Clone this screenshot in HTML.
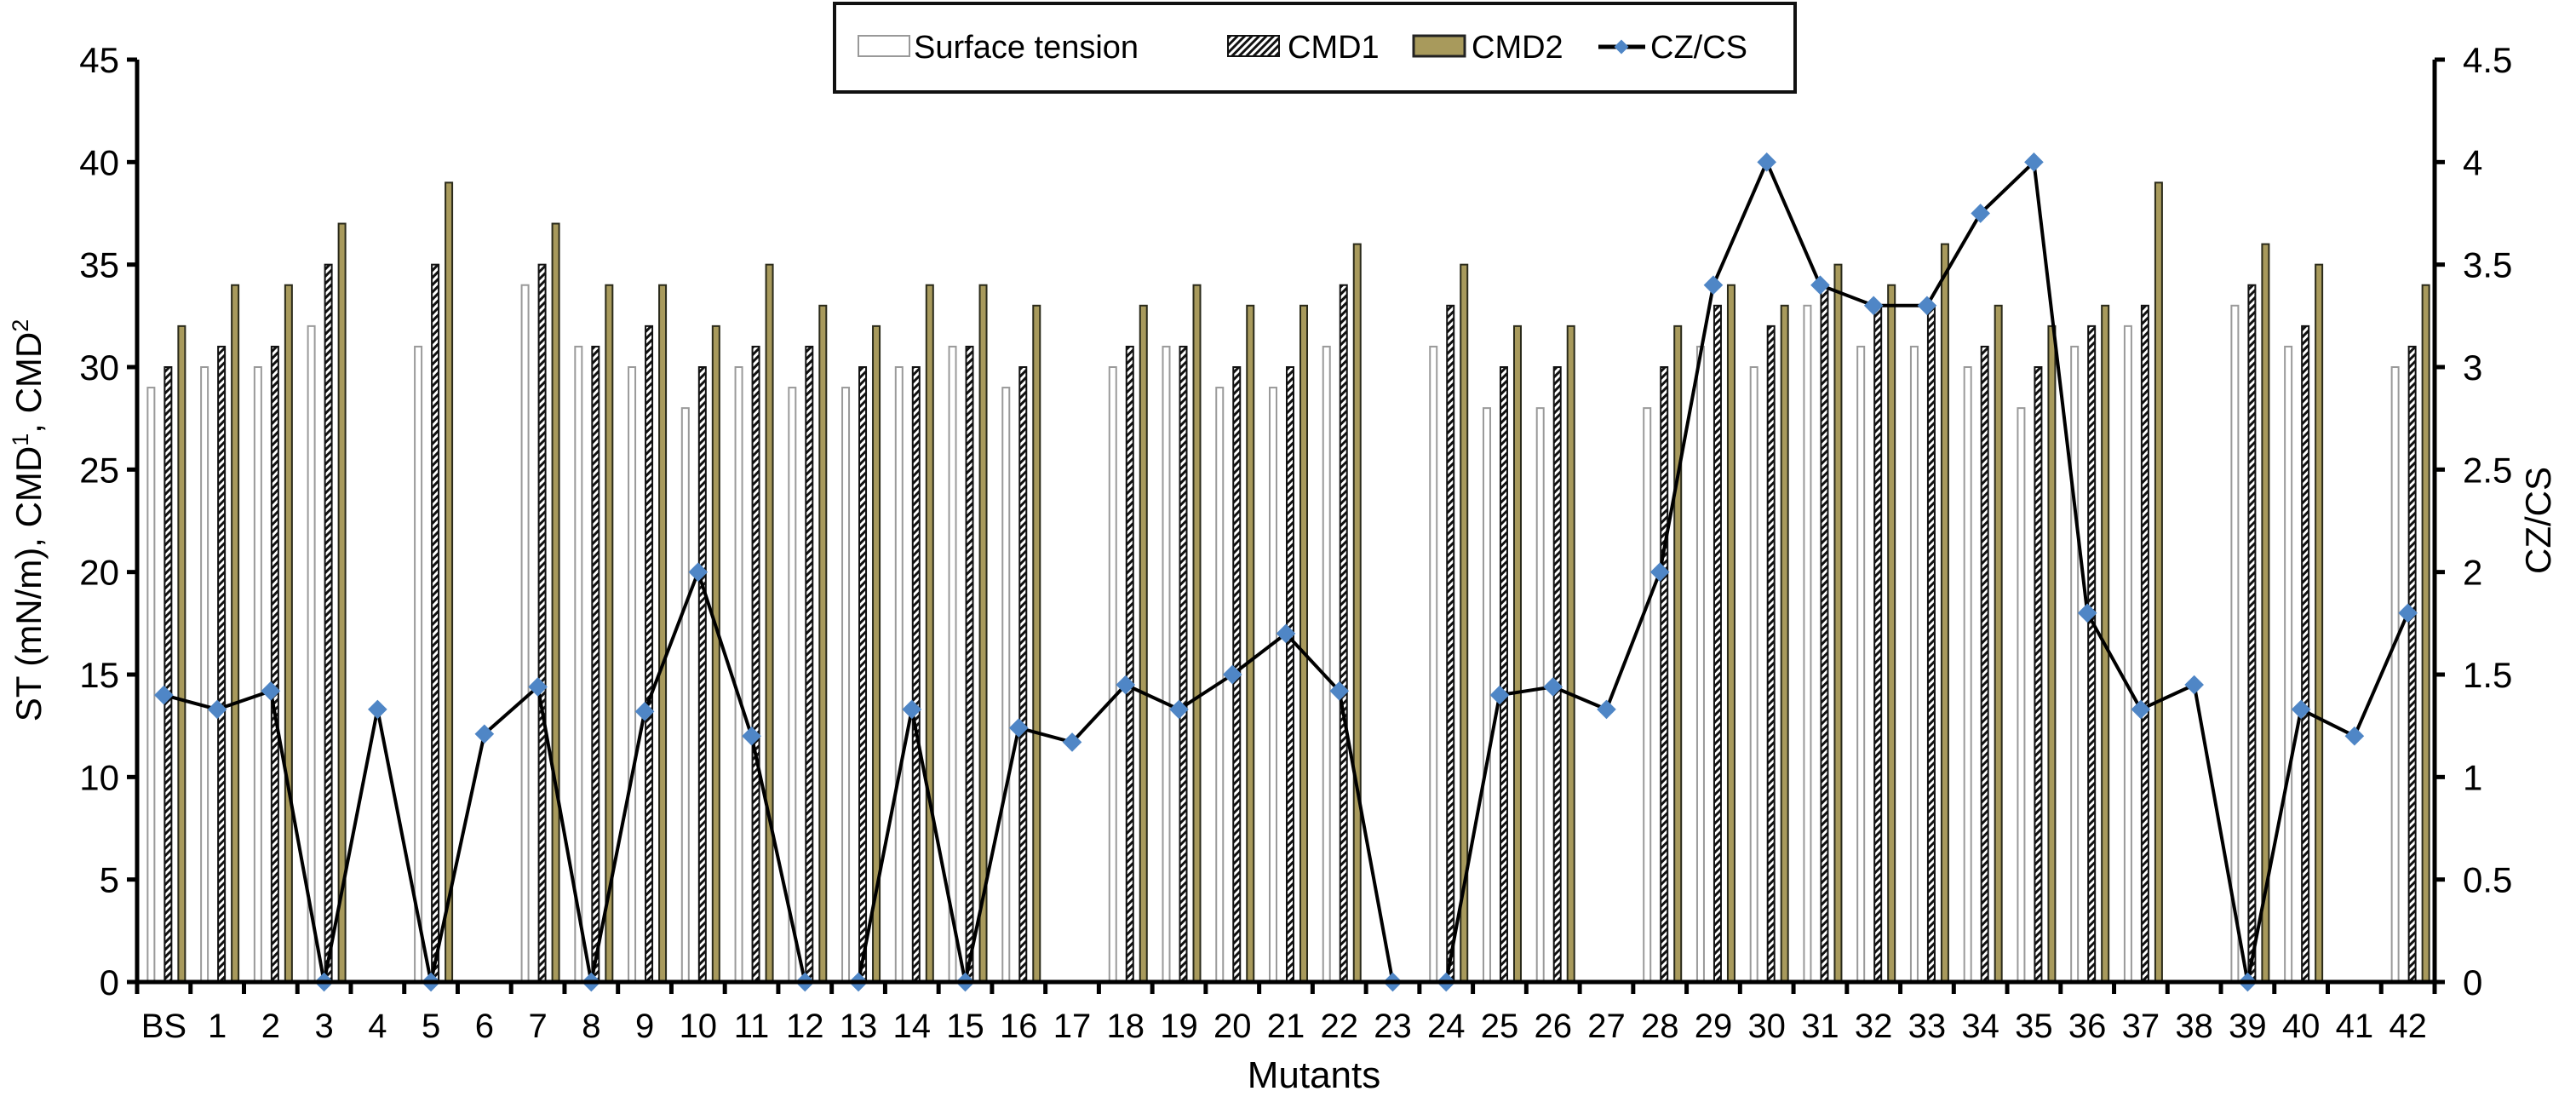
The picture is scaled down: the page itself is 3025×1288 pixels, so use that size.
<!DOCTYPE html>
<html><head><meta charset="utf-8"><style>
html,body{margin:0;padding:0;background:#fff;}
svg{display:block;font-family:"Liberation Sans",Arial,sans-serif;}
</style></head><body>
<svg id="chart" width="3025" height="1288" viewBox="0 0 3025 1288" xmlns="http://www.w3.org/2000/svg">
<defs>
<pattern id="hatch" patternUnits="userSpaceOnUse" width="6" height="6" patternTransform="rotate(45)">
<rect width="6" height="6" fill="#fff"/><rect width="3" height="6" fill="#111"/>
</pattern>
</defs>
<g id="bars"></g>
<g id="line"></g>
<g id="axes"></g>
<g>
<rect x="980" y="4" width="1128" height="104" fill="#fff" stroke="#111" stroke-width="4"/>
<rect x="1008" y="42" width="60" height="24" fill="#fff" stroke="#999" stroke-width="2"/>
<text x="1073" y="68" font-size="38">Surface tension</text>
<rect x="1442" y="42" width="60" height="24" fill="url(#hatch)" stroke="#111" stroke-width="2"/>
<text x="1512" y="68" font-size="38">CMD1</text>
<rect x="1660" y="42" width="60" height="24" fill="#a89a5c" stroke="#222" stroke-width="3"/>
<text x="1728" y="68" font-size="38">CMD2</text>
<line x1="1877" y1="55" x2="1932" y2="55" stroke="#000" stroke-width="5"/>
<rect x="1898" y="49" width="12" height="12" fill="#4f86c6" transform="rotate(45 1904 55)"/>
<text x="1938" y="68" font-size="38">CZ/CS</text>
</g>
<text x="48" y="611" font-size="42" text-anchor="middle" transform="rotate(-90 48 611)">ST (mN/m), CMD<tspan baseline-shift="super" font-size="27">1</tspan>, CMD<tspan baseline-shift="super" font-size="27">2</tspan></text>
<text x="2995" y="611" font-size="42" text-anchor="middle" transform="rotate(-90 2995 611)">CZ/CS</text>
<text x="1543" y="1277" font-size="44" text-anchor="middle">Mutants</text>
</svg>
<script>
const categories=["BS","1","2","3","4","5","6","7","8","9","10","11","12","13","14","15","16","17","18","19","20","21","22","23","24","25","26","27","28","29","30","31","32","33","34","35","36","37","38","39","40","41","42"];
const surfaceTension=[29,30,30,32,0,31,0,34,31,30,28,30,29,29,30,31,29,0,30,31,29,29,31,0,31,28,28,0,28,31,30,33,31,31,30,28,31,32,0,33,31,0,30];
const cmd1=[30,31,31,35,0,35,0,35,31,32,30,31,31,30,30,31,30,0,31,31,30,30,34,0,33,30,30,0,30,33,32,34,33,33,31,30,32,33,0,34,32,0,31];
const cmd2=[32,34,34,37,0,39,0,37,34,34,32,35,33,32,34,34,33,0,33,34,33,33,36,0,35,32,32,0,32,34,33,35,34,36,33,32,33,39,0,36,35,0,34];
const czcs=[1.4,1.33,1.42,0,1.33,0,1.21,1.44,0,1.32,2.0,1.2,0,0,1.33,0,1.24,1.17,1.45,1.33,1.5,1.7,1.42,0,0,1.4,1.44,1.33,2.0,3.4,4.0,3.4,3.3,3.3,3.75,4.0,1.8,1.33,1.45,0,1.33,1.2,1.8];
const leftTicks=[0,5,10,15,20,25,30,35,40,45];
const rightTicks=["0","0.5","1","1.5","2","2.5","3","3.5","4","4.5"];

const NS="http://www.w3.org/2000/svg";
const L=161,R=2859,T=70,B=1153;
const n=categories.length,step=(R-L)/n;
const xC=i=>L+(i+0.5)*step;
const yL=v=>B-(v/45)*(B-T);
const yR=v=>B-(v/4.5)*(B-T);
function mk(tag,attrs,parent){const e=document.createElementNS(NS,tag);for(const k in attrs)e.setAttribute(k,attrs[k]);parent.appendChild(e);return e;}
const gb=document.getElementById('bars'),gl=document.getElementById('line'),ga=document.getElementById('axes');
const bw=8;
categories.forEach((c,i)=>{
  const cx=xC(i);
  if(surfaceTension[i]>0){const r=mk('rect',{x:cx-15-bw/2,y:yL(surfaceTension[i]),width:bw,height:B-yL(surfaceTension[i]),fill:'#fff',stroke:'#9a9a9a','stroke-width':2},gb);
    
    }
  if(cmd1[i]>0){const r=mk('rect',{x:cx+5-bw/2,y:yL(cmd1[i]),width:bw,height:B-yL(cmd1[i]),fill:'url(#hatch)',stroke:'#111','stroke-width':2},gb);
    
    }
  if(cmd2[i]>0){const r=mk('rect',{x:cx+21-bw/2,y:yL(cmd2[i]),width:bw,height:B-yL(cmd2[i]),fill:'#a89a5c',stroke:'#2a2a1a','stroke-width':2},gb);
    
    }
});
const pts=czcs.map((v,i)=>xC(i).toFixed(1)+','+yR(v).toFixed(1)).join(' ');
const pl=mk('polyline',{points:pts,fill:'none',stroke:'#000','stroke-width':4,'stroke-linejoin':'round'},gl);


czcs.forEach((v,i)=>{
  const m=mk('rect',{x:xC(i)-8,y:yR(v)-8,width:16,height:16,fill:'#4f86c6',transform:`rotate(45 ${xC(i)} ${yR(v)})`},gl);
  
  
});
let a=mk('line',{x1:L,y1:T,x2:L,y2:B,stroke:'#000','stroke-width':5},ga);


a=mk('line',{x1:R,y1:T,x2:R,y2:B,stroke:'#000','stroke-width':5},ga);


a=mk('line',{x1:L-12,y1:B,x2:R+12,y2:B,stroke:'#000','stroke-width':5},ga);


leftTicks.forEach(v=>{
  mk('line',{x1:L-12,y1:yL(v),x2:L,y2:yL(v),stroke:'#000','stroke-width':5},ga);
  const t=mk('text',{x:140,y:yL(v)+15,'font-size':42,'text-anchor':'end'},ga);t.textContent=v;
  
  
});
rightTicks.forEach((s,k)=>{
  const y=yR(parseFloat(s));
  mk('line',{x1:R,y1:y,x2:R+12,y2:y,stroke:'#000','stroke-width':5},ga);
  const t=mk('text',{x:2892,y:y+15,'font-size':42},ga);t.textContent=s;
  
  
});
for(let i=0;i<=n;i++){mk('line',{x1:L+i*step,y1:B,x2:L+i*step,y2:B+14,stroke:'#000','stroke-width':5},ga);}
categories.forEach((c,i)=>{
  const t=mk('text',{x:xC(i),y:1218,'font-size':40,'text-anchor':'middle'},ga);t.textContent=c;
  
  
});
</script>
</body></html>
